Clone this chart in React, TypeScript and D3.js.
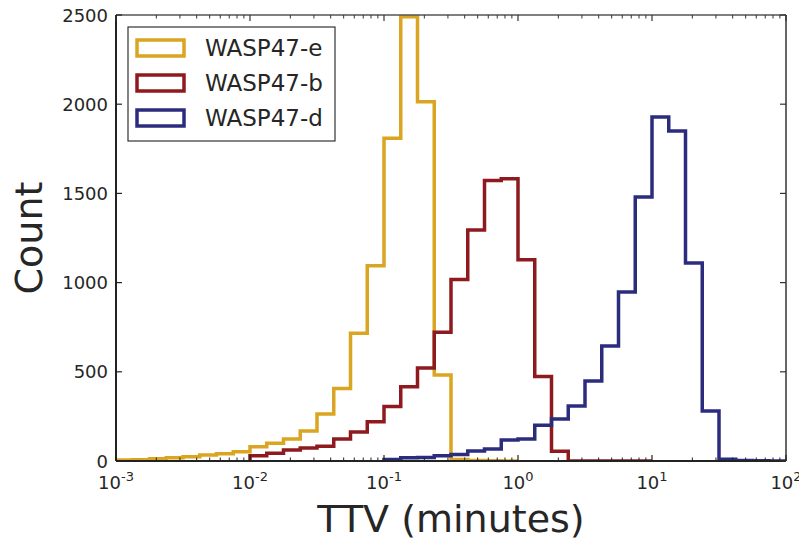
import React from "react";
import * as d3 from "d3";

// Histogram bin setup: 8 log bins per decade, 3 decades per series
const binsPerDecade = 8;
const seriesNames = ["WASP47-e", "WASP47-b", "WASP47-d"];
const seriesColors = ["#DAA520", "#8E1A1F", "#2B2C7E"];
const seriesStartExp = [-3, -2, -1];

const countsE = [5, 7, 12, 18, 24, 34, 41, 52, 80, 100, 123, 168, 263, 407, 716, 1095, 1809, 2490, 2014, 482, 8, 3, 1, 0];
const countsB = [30, 43, 62, 73, 82, 123, 162, 220, 306, 416, 522, 721, 1018, 1295, 1572, 1582, 1128, 474, 55, 0, 0, 0, 0, 0];
const countsD = [9, 18, 20, 30, 37, 56, 67, 118, 123, 200, 235, 308, 448, 645, 947, 1480, 1928, 1850, 1110, 280, 10, 3, 1, 0];
const seriesCounts = [countsE, countsB, countsD];

const xTickExps = [-3, -2, -1, 0, 1, 2];
const yTicks = [0, 500, 1000, 1500, 2000, 2500];

const W = 799;
const H = 539;
const M = { left: 116, right: 786, top: 15, bottom: 461 };
const FONT = "DejaVu Sans, sans-serif";
const TEXT = "#262626";

export default function App() {
  const x = d3.scaleLog().domain([1e-3, 1e2]).range([M.left, M.right]);
  const y = d3.scaleLinear().domain([0, 2500]).range([M.bottom, M.top]);

  const stepPath = (counts: number[], startExp: number) => {
    const edges = d3.range(counts.length + 1).map((i) => Math.pow(10, startExp + i / binsPerDecade));
    let p = `M${x(edges[0])},${y(0)}`;
    counts.forEach((c, i) => {
      p += `V${y(c)}H${x(edges[i + 1])}`;
    });
    p += `V${y(0)}`;
    return p;
  };

  const minorTicks: number[] = [];
  for (let e = -3; e < 2; e++) {
    for (let m = 2; m <= 9; m++) minorTicks.push(m * Math.pow(10, e));
  }

  return (
    <svg width={W} height={H} style={{ position: "absolute", left: 0, top: 0, background: "#fff" }} fontFamily={FONT}>
      <defs>
        <clipPath id="plotclip">
          <rect x={M.left} y={M.top - 2} width={M.right - M.left} height={M.bottom - M.top + 2} />
        </clipPath>
      </defs>
      <rect x={0} y={0} width={W} height={H} fill="#fff" />

      {/* histograms */}
      <g clipPath="url(#plotclip)">
        {seriesCounts.map((c, i) => (
          <path key={i} d={stepPath(c, seriesStartExp[i])} fill="none" stroke={seriesColors[i]} strokeWidth={3.5} strokeLinejoin="miter" />
        ))}
      </g>

      {/* spines */}
      <line x1={M.left} x2={M.right} y1={M.top} y2={M.top} stroke="#555" strokeWidth={1.3} />
      <line x1={M.right} x2={M.right} y1={M.top} y2={M.bottom} stroke="#333" strokeWidth={1.5} />
      <line x1={M.left} x2={M.left} y1={M.top} y2={M.bottom} stroke="#222" strokeWidth={2} />
      <line x1={M.left} x2={M.right} y1={M.bottom} y2={M.bottom} stroke="#222" strokeWidth={2.2} />

      {/* x ticks */}
      {xTickExps.map((e) => {
        const px = x(Math.pow(10, e));
        return (
          <g key={e}>
            <line x1={px} x2={px} y1={M.bottom} y2={M.bottom - 6} stroke="#222" strokeWidth={1.2} />
            <line x1={px} x2={px} y1={M.top} y2={M.top + 6} stroke="#333" strokeWidth={1.2} />
            <text x={px} y={489} textAnchor="middle" fontSize={18} fill={TEXT}>
              10
              <tspan dy={-8} fontSize={13}>{String(e)}</tspan>
            </text>
          </g>
        );
      })}
      {minorTicks.map((v, i) => {
        const px = x(v);
        return (
          <g key={"m" + i}>
            <line x1={px} x2={px} y1={M.bottom} y2={M.bottom - 3.5} stroke="#222" strokeWidth={1} />
            <line x1={px} x2={px} y1={M.top} y2={M.top + 3.5} stroke="#333" strokeWidth={1} />
          </g>
        );
      })}

      {/* y ticks */}
      {yTicks.map((t) => {
        const py = y(t);
        return (
          <g key={t}>
            <line x1={M.left} x2={M.left + 6} y1={py} y2={py} stroke="#222" strokeWidth={1.2} />
            <line x1={M.right} x2={M.right - 6} y1={py} y2={py} stroke="#333" strokeWidth={1.2} />
            <text x={108} y={py} textAnchor="end" dominantBaseline="central" fontSize={18} fill={TEXT}>
              {t}
            </text>
          </g>
        );
      })}

      {/* axis labels */}
      <text x={451} y={532} textAnchor="middle" fontSize={38} fill={TEXT}>
        TTV (minutes)
      </text>
      <text transform={`translate(42,238) rotate(-90)`} textAnchor="middle" fontSize={38} fill={TEXT}>
        Count
      </text>

      {/* legend */}
      <rect x={128} y={27} width={207} height={114} fill="#fff" stroke="#333" strokeWidth={1.2} />
      {seriesNames.map((n, i) => {
        const cy = 48 + i * 35;
        return (
          <g key={n}>
            <rect x={137} y={cy - 8} width={47} height={16} fill="none" stroke={seriesColors[i]} strokeWidth={3.5} />
            <text x={205} y={cy} dominantBaseline="central" fontSize={23} fill={TEXT}>
              {n}
            </text>
          </g>
        );
      })}
    </svg>
  );
}
